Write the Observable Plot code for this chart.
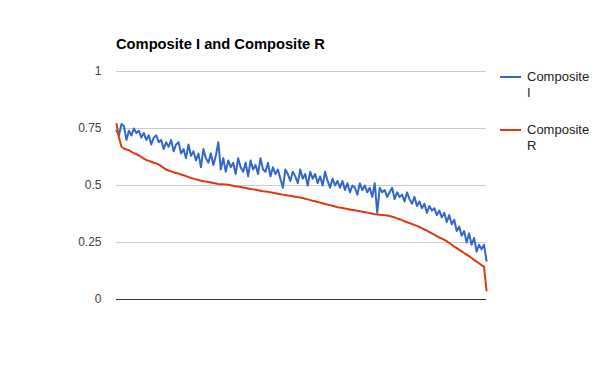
<!DOCTYPE html>
<html>
<head>
<meta charset="utf-8">
<script src="https://cdn.jsdelivr.net/npm/d3@7"></script>
<script src="https://cdn.jsdelivr.net/npm/@observablehq/plot@0.6"></script>
<style>
  body { margin: 0; background: #fff; font-family: Arial, "Liberation Sans", sans-serif; }
  #wrap { position: relative; width: 600px; height: 371px; }
  #title { position: absolute; left: 116px; top: 36px; font-size: 14.7px; font-weight: bold; color: #000; }
  .leg { position: absolute; left: 500px; font-size: 13px; color: #222; line-height: 16px; }
  .leg .sw { position: absolute; left: 0; top: 7px; width: 21px; height: 2px; }
  .leg .tx { position: absolute; left: 27px; top: 0; width: 72px; }
</style>
</head>
<body>
<div id="wrap">
  <div id="chart"></div>
  <div id="title"></div>
  <div id="legend"></div>
</div>
<script>
const title = "Composite I and Composite R";
const seriesNames = ["Composite I", "Composite R"];
const seriesColors = ["#3366cc", "#dc3912"];
const yTicks = [0, 0.25, 0.5, 0.75, 1];

const compositeI = [
  0.74,0.72,0.77,0.76,0.70,0.74,0.72,0.75,0.73,0.74,
  0.71,0.73,0.70,0.72,0.68,0.71,0.72,0.69,0.70,0.66,
  0.69,0.67,0.70,0.65,0.68,0.69,0.64,0.66,0.62,0.68,
  0.63,0.65,0.61,0.64,0.58,0.66,0.62,0.60,0.64,0.59,
  0.63,0.69,0.57,0.62,0.56,0.61,0.58,0.60,0.55,0.62,
  0.58,0.56,0.60,0.54,0.61,0.57,0.59,0.55,0.62,0.57,
  0.56,0.60,0.54,0.58,0.55,0.57,0.53,0.49,0.57,0.55,
  0.52,0.56,0.54,0.51,0.57,0.53,0.55,0.50,0.56,0.53,
  0.55,0.51,0.54,0.50,0.56,0.52,0.49,0.53,0.50,0.52,
  0.49,0.52,0.48,0.51,0.47,0.50,0.49,0.46,0.51,0.48,
  0.50,0.47,0.49,0.45,0.51,0.38,0.49,0.47,0.48,0.45,
  0.47,0.49,0.44,0.47,0.45,0.46,0.43,0.47,0.44,0.42,
  0.45,0.41,0.43,0.40,0.42,0.38,0.41,0.39,0.40,0.37,
  0.39,0.36,0.38,0.34,0.37,0.33,0.35,0.30,0.32,0.28,
  0.30,0.25,0.29,0.24,0.27,0.21,0.24,0.22,0.24,0.17
];

const compositeR = [
  0.77,0.71,0.67,0.662,0.658,0.655,0.648,0.642,0.638,0.632,
  0.625,0.618,0.612,0.608,0.604,0.600,0.597,0.592,0.585,0.577,
  0.570,0.566,0.562,0.558,0.555,0.552,0.548,0.545,0.541,0.537,
  0.533,0.530,0.527,0.524,0.521,0.519,0.517,0.515,0.513,0.511,
  0.509,0.507,0.506,0.505,0.504,0.503,0.501,0.499,0.497,0.495,
  0.493,0.491,0.489,0.487,0.485,0.483,0.481,0.479,0.477,0.475,
  0.474,0.472,0.470,0.468,0.466,0.464,0.462,0.460,0.458,0.456,
  0.455,0.453,0.451,0.449,0.447,0.445,0.442,0.439,0.436,0.433,
  0.431,0.428,0.425,0.422,0.419,0.416,0.414,0.411,0.408,0.405,
  0.403,0.401,0.399,0.397,0.395,0.393,0.391,0.389,0.387,0.385,
  0.383,0.381,0.379,0.376,0.374,0.373,0.372,0.371,0.370,0.368,
  0.366,0.363,0.360,0.356,0.352,0.348,0.343,0.339,0.335,0.331,
  0.327,0.323,0.318,0.313,0.307,0.302,0.296,0.290,0.284,0.278,
  0.272,0.267,0.262,0.256,0.248,0.240,0.232,0.225,0.218,0.211,
  0.204,0.197,0.190,0.182,0.174,0.166,0.159,0.151,0.144,0.04
];

const data = [];
[compositeI, compositeR].forEach((arr, s) => {
  arr.forEach((v, i) => data.push({ series: seriesNames[s], i, v }));
});

const chart = Plot.plot({
  width: 600,
  height: 371,
  marginLeft: 116,
  marginRight: 114,
  marginTop: 71,
  marginBottom: 72,
  style: { fontFamily: "Arial, 'Liberation Sans', sans-serif", fontSize: "12px", color: "#444", background: "#fff" },
  x: { domain: [0, compositeI.length - 1], axis: null },
  y: { domain: [0, 1], ticks: yTicks, tickFormat: d => String(d), tickSize: 0, tickPadding: 15, label: null },
  color: { domain: seriesNames, range: seriesColors },
  marks: [
    Plot.ruleY(yTicks.filter(d => d > 0), { stroke: "#cccccc", strokeWidth: 1 }),
    Plot.line(data, { x: "i", y: "v", z: "series", stroke: "series", strokeWidth: 2, curve: "linear" }),
    Plot.ruleY([0], { stroke: "#333333", strokeWidth: 1 })
  ]
});
document.getElementById("chart").appendChild(chart);

document.getElementById("title").textContent = title;
const legend = document.getElementById("legend");
const tops = [69, 122];
seriesNames.forEach((name, k) => {
  const d = document.createElement("div");
  d.className = "leg";
  d.style.top = tops[k] + "px";
  d.innerHTML = `<div class="sw" style="background:${seriesColors[k]}"></div><div class="tx">${name.split(" ")[0]}<br>${name.split(" ")[1]}</div>`;
  legend.appendChild(d);
});
</script>
</body>
</html>
